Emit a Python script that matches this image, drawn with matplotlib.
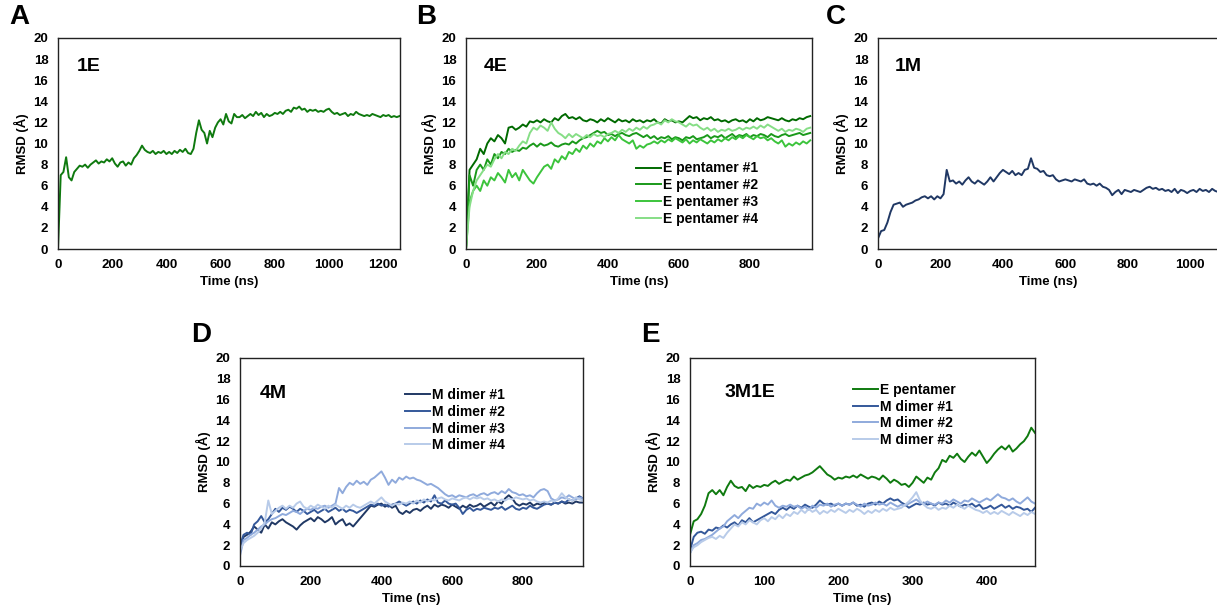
import numpy as np
import matplotlib
matplotlib.use('Agg')
import matplotlib.pyplot as plt

plt.rcParams['font.family'] = ['Liberation Sans', 'DejaVu Sans']
plt.rcParams['font.weight'] = 'bold'

# ---- data (RMSD in Angstrom) ----
# panel A, 1E, one value every 10 ns
step_1e = 10
rmsd_1e = [0.0, 7.0, 7.3, 8.7, 6.8, 6.5, 7.3, 7.6, 7.9, 7.8, 8.0, 7.7, 8.0, 8.2, 8.4, 8.1, 8.3, 8.2, 8.5, 8.3,
           8.6, 8.1, 7.8, 8.2, 8.3, 7.9, 8.2, 8.0, 8.6, 8.9, 9.3, 9.8, 9.4, 9.2, 9.1, 9.3, 9.0, 9.2, 9.1, 9.3,
           9.0, 9.2, 9.0, 9.3, 9.1, 9.4, 9.2, 9.5, 9.1, 9.0, 9.5, 11.0, 12.2, 11.3, 11.0, 10.0, 11.2, 10.6, 11.5, 12.0,
           12.3, 11.8, 12.8, 12.1, 11.9, 12.8, 12.5, 12.5, 12.7, 12.4, 12.6, 12.8, 12.6, 13.0, 12.7, 12.9, 12.5, 12.8, 12.6, 12.7,
           12.9, 12.8, 13.0, 12.8, 13.1, 13.2, 13.0, 13.4, 13.3, 13.5, 13.2, 13.3, 13.0, 13.2, 13.1, 13.2, 13.0, 13.1, 13.0, 13.2,
           13.3, 13.0, 12.8, 12.9, 12.7, 12.8, 12.9, 12.6, 12.8, 12.7, 13.0, 12.8, 12.7, 12.6, 12.7, 12.6, 12.8, 12.7, 12.6, 12.5,
           12.7, 12.6, 12.7, 12.5, 12.6, 12.5, 12.6]

# panel B, 4E, every 10 ns
step_4e = 10
e_pent1 = [0.0, 7.5, 8.0, 8.5, 9.5, 9.0, 10.0, 10.5, 10.2, 10.8, 10.5, 10.0, 11.5, 11.6, 11.3, 11.5, 11.8, 11.6, 12.1, 12.0,
           12.2, 12.0, 12.3, 12.1, 12.0, 12.4, 12.2, 12.6, 12.8, 12.4, 12.5, 12.3, 12.5, 12.2, 12.1, 12.3, 12.2, 12.0, 12.3, 12.1,
           12.4, 12.2, 12.0, 12.3, 12.1, 12.2, 12.0, 12.3, 12.1, 12.2, 12.0, 12.2, 12.1, 12.3, 12.0, 11.9, 12.3, 12.1, 12.2, 12.0,
           12.1, 12.0, 12.3, 12.6, 12.4, 12.5, 12.2, 12.4, 12.3, 12.5, 12.2, 12.3, 12.1, 12.2, 12.0, 12.2, 12.3, 12.1, 12.2, 12.0,
           12.3, 12.1, 12.4, 12.2, 12.3, 12.5, 12.4, 12.3, 12.2, 12.4, 12.2, 12.1, 12.3, 12.2, 12.4, 12.3, 12.5, 12.6]
e_pent2 = [0.0, 7.0, 6.0, 7.5, 8.0, 7.5, 8.5, 8.0, 9.0, 8.6, 9.2, 9.0, 9.5, 9.2, 9.4, 9.3, 9.6, 9.5, 9.8, 10.0,
           9.7, 10.0, 9.8, 9.9, 10.1, 9.8, 9.7, 9.9, 10.0, 9.9, 10.2, 10.0, 10.3, 10.5, 10.6, 10.8, 11.0, 11.2, 11.0, 11.1,
           10.8, 10.9, 10.7, 10.9, 11.0, 10.8, 10.7, 10.9, 11.0, 10.8, 10.6, 10.8, 10.5, 10.7, 10.4, 10.6, 10.5, 10.7, 10.4, 10.6,
           10.5, 10.3, 10.6, 10.5, 10.7, 10.4, 10.5, 10.6, 10.8, 10.5, 10.7, 10.6, 10.8, 10.5, 10.7, 10.9, 10.6, 10.8, 10.7, 10.9,
           10.6, 10.8, 10.7, 10.9, 10.8, 10.6, 10.9, 10.7, 10.6, 10.8, 10.9, 10.7, 10.8, 10.9, 11.0, 10.8, 10.9, 11.0]
e_pent3 = [0.0, 4.5, 5.5, 6.0, 5.5, 6.5, 6.0, 6.8, 6.5, 7.2, 6.8, 6.3, 7.5, 6.8, 7.2, 6.5, 7.5, 7.0, 6.5, 6.2,
           6.8, 7.3, 7.8, 8.0, 7.6, 8.5, 8.2, 8.8, 8.5, 9.2, 9.0, 9.5, 9.2, 9.8, 9.5, 10.0, 9.7, 10.2, 10.0, 10.5,
           10.2, 10.6, 10.3, 10.8, 10.4, 10.2, 10.0, 10.3, 9.5, 9.8, 9.6, 9.9, 10.0, 10.2, 10.0, 10.3, 10.1, 10.4, 10.2, 10.5,
           10.3, 10.1, 10.4, 10.0, 10.3, 10.1, 10.4, 10.2, 10.0, 10.3, 10.1, 10.4, 10.2, 10.5, 10.3, 10.6, 10.4, 10.7, 10.5, 10.8,
           10.6, 10.4, 10.7, 10.5, 10.6, 10.3, 10.5, 10.2, 10.0, 10.3, 9.7, 10.0, 9.8, 10.1, 9.9, 10.2, 10.0, 10.3]
e_pent4 = [0.0, 4.0, 5.5, 6.5, 7.0, 7.5, 8.0, 7.8, 8.5, 9.0, 8.6, 9.2, 9.0, 9.5, 9.3, 9.8, 10.2, 10.0, 11.0, 11.5,
           11.3, 11.7, 11.5, 11.2, 12.0, 11.4, 11.0, 10.8, 10.5, 10.9, 10.6, 10.9, 10.7, 10.5, 10.8, 10.6, 10.9, 10.7, 10.8, 10.6,
           10.9, 11.0, 11.2, 11.0, 11.3, 11.1, 11.4, 11.2, 11.5, 11.3, 11.6, 11.4, 11.7, 11.8, 12.0, 11.8, 12.2, 12.0, 12.3, 12.1,
           12.0, 11.8, 11.6, 11.9, 11.7, 11.8, 11.5, 11.3, 11.5, 11.2, 11.4, 11.1, 11.3, 11.2, 11.4, 11.2, 11.3, 11.5, 11.3, 11.5,
           11.4, 11.6, 11.4, 11.7, 11.5, 11.8, 11.6, 11.4, 11.2, 11.4, 11.1, 11.3, 11.2, 11.4, 11.3, 11.1, 11.4, 11.5]

# panel C, 1M, every 10 ns
step_1m = 10
rmsd_1m = [1.0, 1.7, 1.8, 2.5, 3.5, 4.2, 4.3, 4.4, 4.0, 4.2, 4.3, 4.4, 4.6, 4.7, 4.9, 5.0, 4.8, 5.0, 4.7, 5.0,
           4.8, 5.2, 7.5, 6.4, 6.5, 6.2, 6.4, 6.1, 6.5, 6.8, 6.4, 6.2, 6.5, 6.3, 6.1, 6.4, 6.8, 6.4, 6.8, 7.2,
           7.5, 7.3, 7.1, 7.4, 7.0, 7.2, 7.0, 7.5, 7.6, 8.6, 7.7, 7.6, 7.3, 7.4, 7.0, 6.9, 7.0, 6.6, 6.4, 6.5,
           6.6, 6.5, 6.4, 6.6, 6.5, 6.4, 6.6, 6.2, 6.1, 6.2, 6.0, 6.2, 5.9, 5.8, 5.6, 5.1, 5.4, 5.6, 5.2, 5.6,
           5.5, 5.4, 5.6, 5.5, 5.4, 5.6, 5.8, 5.9, 5.7, 5.8, 5.6, 5.7, 5.5, 5.6, 5.4, 5.7, 5.3, 5.6, 5.5, 5.3,
           5.5, 5.6, 5.4, 5.7, 5.5, 5.6, 5.4, 5.7, 5.5, 5.4]

# panel D, 4M, every 10 ns
step_4m = 10
m_dim1 = [1.5, 2.8, 3.0, 3.3, 3.8, 3.5, 3.2, 4.0, 3.6, 4.2, 4.0, 4.3, 4.5, 4.2, 4.0, 3.8, 3.5, 3.9, 4.2, 4.4,
          4.6, 4.3, 4.7, 4.5, 4.2, 4.4, 4.7, 4.0, 4.3, 4.5, 3.9, 4.1, 3.8, 4.2, 4.6, 5.0, 5.4, 5.8, 5.7, 5.9,
          6.0, 5.7, 5.9, 5.6, 5.8, 5.2, 5.0, 5.3, 5.1, 5.4, 5.5, 5.3, 5.6, 5.8, 5.5, 5.9, 5.7, 5.9, 5.8, 5.6,
          5.9, 5.7, 5.5, 5.8, 5.6, 5.9, 5.7, 5.8, 6.0, 5.7, 5.9, 6.1, 5.8, 6.2, 6.0, 6.5, 6.8, 6.5, 6.0, 5.8,
          6.0, 5.9, 6.1, 5.8, 6.0, 5.9, 6.1, 6.0, 5.9, 6.1, 6.0, 6.2, 6.0, 6.1, 6.0, 6.2, 6.1, 6.1]
m_dim2 = [2.0, 3.0, 3.2, 3.0, 4.0, 4.3, 4.8, 4.2, 4.5, 5.0, 5.5, 5.2, 5.6, 5.4, 5.7, 5.5, 5.2, 5.5, 5.3, 5.0,
          5.2, 5.4, 5.1, 5.3, 5.5, 5.2, 5.4, 5.6, 5.3, 5.5, 5.2, 5.4, 5.3, 5.1, 5.3, 5.5, 5.7, 5.9, 5.8, 6.0,
          5.8, 5.9, 5.7, 5.9, 6.0, 6.2, 6.0, 5.8, 6.0, 6.2, 6.0, 6.3, 6.1, 6.4, 6.2, 6.8, 6.1, 6.0, 6.3, 6.0,
          5.9, 6.0, 5.6, 5.0, 5.4, 5.6, 5.3, 5.5, 5.4, 5.6, 5.5, 5.4, 5.6, 5.5, 5.7, 5.4, 5.6, 5.8, 5.5, 5.4,
          5.6, 5.5, 5.8, 5.6, 5.5, 5.7, 5.9, 6.0, 5.9, 6.1, 6.0, 6.2, 6.1, 6.4, 6.3, 6.5, 6.7, 6.5]
m_dim3 = [1.0, 2.5, 2.7, 3.0, 3.2, 3.5, 3.8, 4.0, 4.3, 4.5, 4.6, 4.8, 5.0, 4.9, 5.1, 5.3, 5.2, 5.0, 5.3, 5.5,
          5.4, 5.6, 5.5, 5.7, 5.8, 5.6, 5.8, 6.0, 7.5, 7.0, 7.6, 8.0, 7.8, 8.2, 7.9, 8.1, 7.8, 8.3, 8.5, 8.8,
          9.1, 8.5, 7.8, 8.3, 8.0, 8.5, 8.3, 8.6, 8.4, 8.5, 8.3, 8.2, 8.0, 7.8, 7.9, 7.7, 7.5, 7.2, 6.9, 6.7,
          6.8, 6.6, 6.8, 6.7, 6.6, 6.8, 6.9, 6.7, 6.9, 7.0, 6.8, 7.0, 7.1, 6.9, 7.2, 7.0, 7.4, 7.1, 7.0, 6.8,
          6.9, 6.7, 6.8, 6.6, 7.0, 7.3, 7.4, 7.2, 6.5, 6.3, 6.4, 6.6, 6.5, 6.8, 6.6, 6.4, 6.6, 6.5]
m_dim4 = [1.5, 2.2, 2.5, 2.7, 2.9, 3.2, 3.6, 4.2, 6.3, 5.0, 5.3, 5.6, 5.8, 5.5, 5.8, 5.6, 6.0, 6.2, 5.7, 5.5,
          5.8, 5.6, 5.9, 5.7, 5.5, 5.8, 5.6, 5.9, 5.7, 5.5, 5.8, 5.6, 5.9, 5.7, 5.6, 5.8, 6.0, 6.2, 6.0, 6.3,
          6.6, 6.2, 6.0, 5.8, 6.0, 5.9, 6.1, 6.0, 6.2, 6.0, 6.3, 6.1, 6.4, 6.2, 6.4, 6.3, 6.5, 6.6, 6.4, 6.3,
          6.5, 6.4, 6.3, 6.5, 6.6, 6.4, 6.6, 6.5, 6.6, 6.4, 6.5, 6.3, 6.4, 6.2, 6.4, 6.3, 6.5, 6.4, 6.6, 6.5,
          6.4, 6.5, 6.3, 6.4, 6.2, 6.1, 6.2, 6.1, 6.3, 6.2, 6.5, 7.0, 6.6, 6.4, 6.3, 6.6, 6.4, 6.3]

# panel E, 3M1E, every 5 ns
step_3m1e = 5
e_pent = [3.0, 4.3, 4.5, 5.0, 5.8, 7.0, 7.3, 6.9, 7.3, 6.8, 7.6, 8.2, 7.7, 7.5, 7.6, 7.2, 7.8, 7.5, 7.7, 7.6,
          7.8, 7.7, 8.0, 8.2, 7.9, 8.1, 8.3, 8.2, 8.6, 8.3, 8.5, 8.7, 8.8, 9.0, 9.3, 9.6, 9.2, 8.8, 8.6, 8.3,
          8.5, 8.4, 8.6, 8.5, 8.7, 8.5, 8.8, 8.6, 8.4, 8.6, 8.5, 8.3, 8.7, 8.4, 8.0, 8.3, 8.1, 7.8, 7.9, 7.6,
          8.0, 8.6, 8.3, 8.0, 8.5, 8.3, 9.0, 9.4, 10.2, 10.0, 10.6, 10.4, 10.8, 10.3, 10.0, 10.5, 10.9, 10.6, 11.1, 10.5,
          9.9, 10.3, 10.8, 11.2, 11.5, 11.2, 11.6, 11.0, 11.3, 11.7, 12.0, 12.5, 13.3, 12.8]
m1_dim1 = [1.5, 2.8, 3.2, 3.3, 3.1, 3.5, 3.4, 3.7, 3.6, 3.9, 3.7, 4.0, 4.2, 3.9, 4.4, 4.2, 4.6, 4.2, 4.4, 4.6,
           4.8, 5.0, 5.2, 5.0, 5.4, 5.6, 5.4, 5.7, 5.5, 5.8, 5.6, 5.9, 5.7, 5.6, 5.9, 6.3, 6.0, 5.9, 6.0, 5.8,
           6.0, 5.8, 6.0, 5.9, 6.1, 5.8, 5.9, 5.7, 6.0, 6.1, 5.9, 6.2, 6.0, 6.3, 6.5, 6.3, 6.4, 6.1, 5.9, 5.6,
           5.8, 6.0, 5.9, 6.1, 5.9, 6.0, 5.8, 6.1, 5.9, 6.0, 5.8, 6.1, 5.9, 5.7, 5.9, 5.8, 6.0, 5.7, 5.9, 5.5,
           5.6, 5.8, 5.5, 5.7, 5.9, 5.6, 5.8, 5.5, 5.7, 5.6, 5.4, 5.5, 5.2, 5.6]
m1_dim2 = [1.2, 2.0, 2.2, 2.5, 2.6, 2.8, 3.0, 3.3, 3.6, 3.8, 4.3, 4.6, 4.9, 4.6, 5.0, 5.3, 5.6, 5.5, 6.0, 5.8,
           6.1, 5.9, 6.3, 5.8, 5.6, 5.8, 5.7, 5.9, 5.7, 5.8, 5.5, 5.7, 5.4, 5.8, 5.6, 5.9, 5.8, 6.0, 5.7, 5.9,
           6.0, 5.8, 6.0, 5.9, 6.1, 5.9, 5.7, 6.0, 5.8, 5.9, 6.1, 5.9, 6.0, 5.8, 6.1, 5.9, 5.7, 5.9, 5.8, 6.0,
           6.2, 6.4, 6.1, 6.0, 6.2, 6.0, 5.9, 6.1, 6.0, 6.3, 6.1, 6.4, 6.2, 6.0, 6.3, 6.2, 6.5, 6.3, 6.1, 6.3,
           6.5, 6.3, 6.6, 6.9, 6.6, 6.5, 6.3, 6.5, 6.2, 6.0, 6.3, 6.6, 6.2, 6.0]
m1_dim3 = [1.3, 1.8, 2.0, 2.3, 2.5, 2.7, 2.8, 2.6, 2.9, 2.7, 3.2, 3.6, 4.0, 3.8, 4.2, 4.0, 4.4, 4.2, 4.0, 4.4,
           4.6, 4.3, 4.7, 4.5, 4.9, 4.6, 5.0, 4.8, 5.2, 5.0, 5.4, 5.1, 5.5, 5.2, 5.4, 5.0, 5.3, 5.1, 5.4, 5.2,
           5.5, 5.3, 5.1, 5.4, 5.2, 5.5, 5.3, 5.0, 5.3, 5.1, 5.4, 5.2, 5.5, 5.3, 5.6, 5.4, 5.5, 5.6, 5.9, 6.2,
           6.6, 7.1, 6.3, 5.9, 5.6, 5.5, 5.7, 5.4, 5.6, 5.5, 5.8, 5.6, 5.9, 5.7, 5.5, 5.8, 5.6, 5.4, 5.3, 5.1,
           5.3, 5.0, 5.2, 5.0, 5.3, 5.1, 4.9, 5.2, 5.0, 4.8, 5.1, 4.9, 5.2, 5.0]

# colours
green_dark = '#0f7a0f'
greens_4e = ['#006a00', '#1a991a', '#3cc43c', '#86de86']
navy = '#203864'
blues_4m = ['#203864', '#34589a', '#8faadc', '#b8cbe9']
blues_3m = ['#34589a', '#8faadc', '#b8cbe9']

W, H = 1217, 609
fig = plt.figure(figsize=(W / 100, H / 100), dpi=100)


def make_ax(left, top, width, height, xmax, xticks, tag, tag_xy, letter, letter_xy):
    ax = fig.add_axes([left / W, 1 - (top + height) / H, width / W, height / H])
    ax.set_xlim(0, xmax)
    ax.set_ylim(0, 20)
    ax.set_yticks(range(0, 21, 2))
    ax.set_xticks(xticks)
    ax.tick_params(length=0, pad=7, labelsize=9.5)
    for s in ax.spines.values():
        s.set_linewidth(1.0)
        s.set_color('#222222')
    ax.set_xlabel('Time (ns)', fontsize=9.5, fontweight='bold', labelpad=4)
    ax.set_ylabel('RMSD (Å)', fontsize=9.5, fontweight='bold', labelpad=3)
    ax.text(tag_xy[0], tag_xy[1], tag, transform=ax.transAxes, fontsize=14,
            fontweight='bold', va='center', ha='left')
    fig.text(letter_xy[0] / W, 1 - letter_xy[1] / H, letter, fontsize=20,
             fontweight='bold', va='center', ha='left')
    return ax


def times(vals, step):
    return np.arange(len(vals)) * step


lw = 1.4
leg_kw = dict(loc='upper left', frameon=False, fontsize=10, handlelength=1.8,
              handletextpad=0.15, labelspacing=0.2, borderpad=0, borderaxespad=0)

# A
ax = make_ax(58, 38, 342, 211, 1262, range(0, 1201, 200), '1E', (0.056, 0.867), 'A', (9, 17))
ax.plot(times(rmsd_1e, step_1e), rmsd_1e, color=green_dark, lw=lw)

# B
ax = make_ax(466, 38, 346, 211, 975, range(0, 801, 200), '4E', (0.05, 0.867), 'B', (416, 17))
for vals, c, i in zip([e_pent1, e_pent2, e_pent3, e_pent4], greens_4e, range(1, 5)):
    ax.plot(times(vals, step_4e), vals, color=c, lw=lw, label='E pentamer #%d' % i)
ax.legend(bbox_to_anchor=(0.49, 0.415), **leg_kw)

# C
ax = make_ax(878, 38, 341, 211, 1092, range(0, 1001, 200), '1M', (0.05, 0.867), 'C', (826, 17))
ax.plot(times(rmsd_1m, step_1m), rmsd_1m, color=navy, lw=lw)

# D
ax = make_ax(240, 358, 343, 208, 970, range(0, 801, 200), '4M', (0.058, 0.827), 'D', (191, 335))
for vals, c, i in zip([m_dim1, m_dim2, m_dim3, m_dim4], blues_4m, range(1, 5)):
    ax.plot(times(vals, step_4m), vals, color=c, lw=lw, label='M dimer #%d' % i)
ax.legend(bbox_to_anchor=(0.481, 0.856), **leg_kw)

# E
ax = make_ax(690, 358, 345, 208, 465, range(0, 401, 100), '3M1E', (0.099, 0.832), 'E', (641, 335))
series = [e_pent, m1_dim1, m1_dim2, m1_dim3]
labels = ['E pentamer', 'M dimer #1', 'M dimer #2', 'M dimer #3']
for vals, c, lab in zip(series, [green_dark] + blues_3m, labels):
    ax.plot(times(vals, step_3m1e), vals, color=c, lw=lw, label=lab)
ax.legend(bbox_to_anchor=(0.472, 0.881), **leg_kw)

fig.savefig('out.png', dpi=100)
